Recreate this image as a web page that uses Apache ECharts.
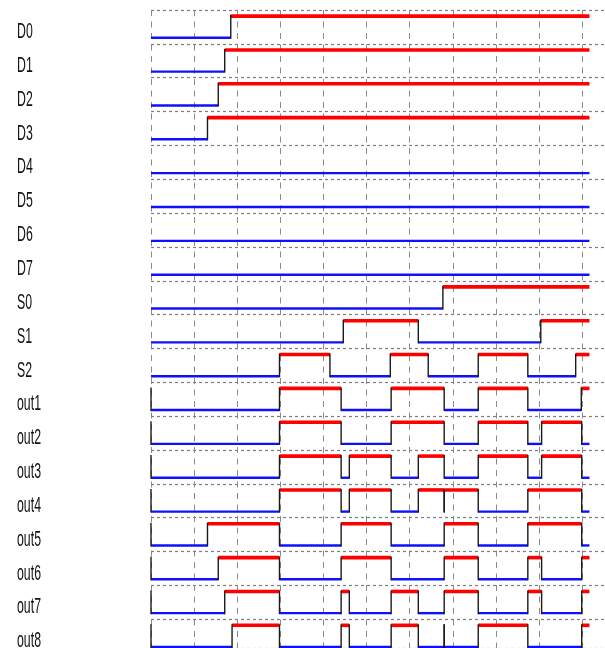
<!DOCTYPE html>
<html>
<head>
<meta charset="utf-8">
<script src="https://cdn.jsdelivr.net/npm/echarts@6/dist/echarts.min.js"></script>
<style>
html,body{margin:0;padding:0;background:#fff;}
#chart{width:605px;height:648px;}
</style>
</head>
<body>
<div id="chart"></div>
<script>
// ---- data ----
const rowNames = ['D0','D1','D2','D3','D4','D5','D6','D7','S0','S1','S2',
  'out1','out2','out3','out4','out5','out6','out7','out8'];
const initLevel = [0,0,0,0,0,0,0,0,0,0,0,0,0,0,0,0,0,0,0];
const startEdge = [0,0,0,0,0,0,0,0,0,0,0,1,1,1,1,1,1,1,1];
const tEnd = 10.17;

const eD0 = [1.85];
const eD1 = [1.71];
const eD2 = [1.56];
const eD3 = [1.31];
const eD4 = [];
const eD5 = [];
const eD6 = [];
const eD7 = [];
const eS0 = [6.77];
const eS1 = [4.46, 6.20, 9.04];
const eS2 = [2.98, 4.15, 5.55, 6.43, 7.59, 8.74, 9.85];
const eOut1 = [2.98, 4.41, 5.57, 6.80, 7.59, 8.74, 9.98];
const eOut2 = [2.98, 4.41, 5.57, 6.80, 7.59, 8.74, 9.06, 9.99];
const eOut3 = [2.98, 4.41, 4.60, 5.57, 6.20, 6.80, 7.59, 8.74, 9.06, 9.99];
const eOut4 = [2.98, 4.41, 4.60, 5.57, 6.20, 6.80, 6.80, 7.59, 8.74, 9.99];
const eOut5 = [1.31, 2.98, 4.41, 5.57, 6.80, 7.59, 8.74, 9.99];
const eOut6 = [1.56, 2.98, 4.41, 5.57, 6.80, 7.59, 8.74, 9.06, 9.99];
const eOut7 = [1.71, 2.98, 4.41, 4.60, 5.57, 6.20, 6.80, 7.59, 8.74, 9.06, 9.99];
const eOut8 = [1.88, 2.98, 4.41, 4.60, 5.57, 6.20, 6.80, 6.80, 7.59, 8.74, 9.99];

const allEdges = [eD0,eD1,eD2,eD3,eD4,eD5,eD6,eD7,eS0,eS1,eS2,
  eOut1,eOut2,eOut3,eOut4,eOut5,eOut6,eOut7,eOut8];

// ---- style constants ----
const HIGH_OFF = 0.18, LOW_OFF = 0.82;
const RED = '#ff0000', BLUE = '#1010ff', EDGE = '#1a1a1a';

// build segments: [t0, t1, level, row, verticalAtStart]
const segs = [];
allEdges.forEach((edges, row) => {
  let lv = initLevel[row];
  let t = 0;
  let vert = startEdge[row];
  edges.forEach(te => {
    segs.push([t, te, lv, row, vert]);
    t = te; lv = 1 - lv; vert = 1;
  });
  segs.push([t, tEnd, lv, row, vert]);
});
const labelData = rowNames.map((n, i) => [0, i]);

const chart = echarts.init(document.getElementById('chart'), null, {renderer: 'canvas'});
chart.setOption({
  animation: false,
  backgroundColor: '#fff',
  grid: {left: 151, right: 0, top: 10, bottom: 0},
  xAxis: {
    type: 'value', min: 0, max: 10.53, interval: 1,
    axisLine: {show: false}, axisTick: {show: false}, axisLabel: {show: false},
    splitLine: {show: true, lineStyle: {color: '#8a8a8a', width: 1, type: [6, 5.5]}}
  },
  yAxis: {
    type: 'value', min: 0, max: 18.85, interval: 1, inverse: true,
    axisLine: {show: false}, axisTick: {show: false}, axisLabel: {show: false},
    splitLine: {show: true, lineStyle: {color: '#7c7c7c', width: 1.2, type: [3, 3]}}
  },
  series: [
    {
      type: 'custom',
      clip: false,
      data: segs,
      encode: {x: [0, 1], y: 3},
      renderItem: function (params, api) {
        const t0 = api.value(0), t1 = api.value(1), lv = api.value(2),
              row = api.value(3), v = api.value(4);
        const y = row + (lv ? HIGH_OFF : LOW_OFF);
        const p0 = api.coord([t0, y]), p1 = api.coord([t1, y]);
        const children = [];
        if (t1 > t0) {
          children.push({
            type: 'line',
            shape: {x1: p0[0], y1: p0[1], x2: p1[0], y2: p1[1]},
            style: {stroke: lv ? RED : BLUE, lineWidth: lv ? 3.6 : 2.4}
          });
        }
        if (v) {
          const a = api.coord([t0, row + HIGH_OFF]), b = api.coord([t0, row + LOW_OFF]);
          children.push({
            type: 'line', z2: 10,
            shape: {x1: a[0], y1: a[1] - 1, x2: b[0], y2: b[1] + 1},
            style: {stroke: EDGE, lineWidth: 1.4}
          });
        }
        return {type: 'group', children: children};
      }
    },
    {
      type: 'custom',
      clip: false,
      data: labelData,
      encode: {x: 0, y: 1},
      renderItem: function (params, api) {
        const row = api.value(1);
        const p = api.coord([0, row + 0.65]);
        return {
          type: 'text',
          x: 17, y: p[1],
          scaleX: 0.56,
          style: {
            text: rowNames[row],
            fontFamily: 'Liberation Sans, Arial, sans-serif',
            fontSize: 22,
            fill: '#111',
            align: 'left',
            verticalAlign: 'middle'
          }
        };
      }
    }
  ]
});
</script>
</body>
</html>
